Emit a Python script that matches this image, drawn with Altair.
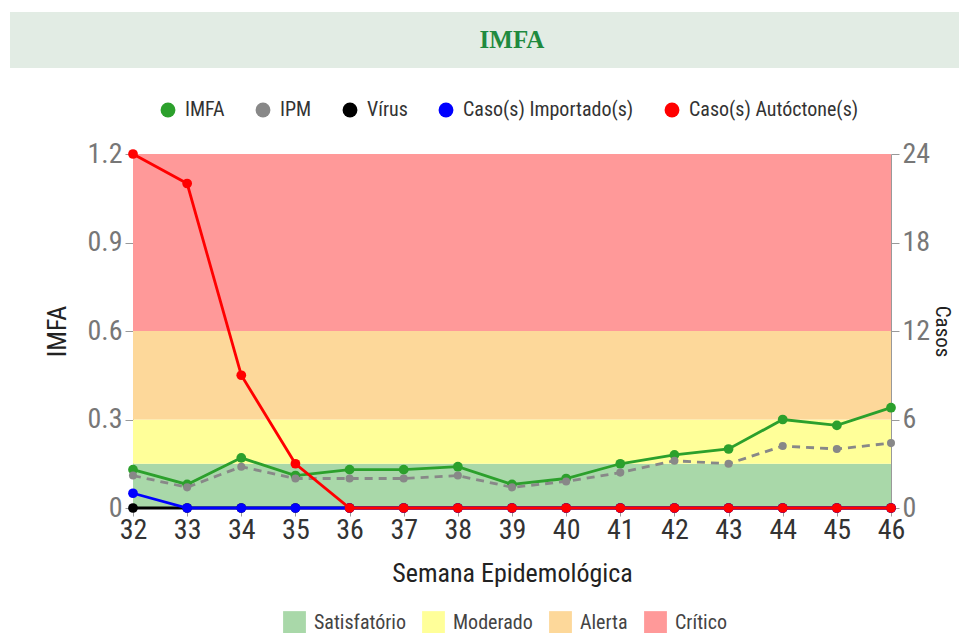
import altair as alt
import pandas as pd

weeks = list(range(32, 47))
imfa = [0.13, 0.08, 0.17, 0.11, 0.13, 0.13, 0.14, 0.08, 0.10, 0.15, 0.18, 0.20, 0.30, 0.28, 0.34]
ipm = [0.11, 0.07, 0.14, 0.10, 0.10, 0.10, 0.11, 0.07, 0.09, 0.12, 0.16, 0.15, 0.21, 0.20, 0.22]
virus = [0, 0, 0, 0, 0, 0, 0, 0, 0, 0, 0, 0, 0, 0, 0]
importados = [1, 0, 0, 0, 0, 0, 0, 0, 0, 0, 0, 0, 0, 0, 0]
autoctones = [24, 22, 9, 3, 0, 0, 0, 0, 0, 0, 0, 0, 0, 0, 0]

series_names = ["IMFA", "IPM", "Vírus", "Caso(s) Importado(s)", "Caso(s) Autóctone(s)"]
series_colors = ["#2ca02c", "#888888", "#000000", "#0000ff", "#ff0000"]

band_names = ["Satisfatório", "Moderado", "Alerta", "Crítico"]
band_lo = [0, 0.15, 0.3, 0.6]
band_hi = [0.15, 0.3, 0.6, 1.2]
band_colors = ["#a9d8a9", "#ffff99", "#fdd89a", "#ff9999"]

left_ticks = [0, 0.3, 0.6, 0.9, 1.2]
right_ticks = [0, 6, 12, 18, 24]

FONT = "Roboto Condensed, Liberation Sans Narrow, DejaVu Sans Condensed, Roboto, sans-serif"

W, H = 758, 354

rows = []
for name, vals in zip(series_names, [imfa, ipm, virus, importados, autoctones]):
    for w, v in zip(weeks, vals):
        rows.append({"week": w, "series": name, "value": v})
df = pd.DataFrame(rows)
bands = pd.DataFrame({"band": band_names, "lo": band_lo, "hi": band_hi})

x_enc = alt.X(
    "week:Q",
    scale=alt.Scale(domain=[weeks[0], weeks[-1]], nice=False, zero=False),
    axis=alt.Axis(values=weeks, format="d", title="Semana Epidemológica",
                  labelFontSize=28, labelColor="#333", titleFontSize=26,
                  titleColor="#222", titleFontWeight="normal", tickSize=8,
                  labelPadding=0, titlePadding=16, domain=False, labelFlush=False,
                  labelOverlap=False),
)

left_scale = alt.Scale(domain=[0, 1.2], nice=False)
left_axis = alt.Axis(values=left_ticks, format="~g", title="IMFA", orient="left",
                     labelFontSize=28, labelColor="#777", titleFontSize=26,
                     titleColor="#222", titleFontWeight="normal", tickSize=8,
                     labelPadding=3, titlePadding=16, labelFlush=False)
right_scale = alt.Scale(domain=[0, 24], nice=False)
right_axis = alt.Axis(values=right_ticks, format="d", title="Casos", orient="right",
                      labelFontSize=28, labelColor="#777", titleFontSize=21,
                      titleColor="#222", titleFontWeight="normal", tickSize=8,
                      labelPadding=3, titlePadding=2, labelFlush=False)

series_legend = alt.Legend(orient="none", legendX=25, legendY=-54, direction="horizontal",
                           title=None, symbolType="circle", symbolSize=220,
                           symbolStrokeWidth=0, labelFontSize=20, labelFont=FONT,
                           labelColor="#333", columnPadding=28, labelOffset=7,
                           labelLimit=0, padding=0)
fill_enc = alt.Fill("series:N", scale=alt.Scale(domain=series_names, range=series_colors),
                    legend=series_legend)
stroke_enc = alt.Stroke("series:N", scale=alt.Scale(domain=series_names, range=series_colors),
                        legend=series_legend)

base = alt.Chart(df)


def series_layers(name, y_scale, y_axis, dashed=False, size=95):
    sel = base.transform_filter(alt.datum.series == name)
    y = alt.Y("value:Q", scale=y_scale, axis=y_axis)
    line_kwargs = {"strokeWidth": 2.8}
    if dashed:
        line_kwargs["strokeDash"] = [8, 6]
    line = sel.mark_line(**line_kwargs).encode(x=x_enc, y=y, stroke=stroke_enc)
    pts = sel.mark_circle(size=size, opacity=1).encode(x=x_enc, y=y, fill=fill_enc)
    return [line, pts]


band_layer = alt.Chart(bands).mark_rect().encode(
    x=alt.value(0), x2=alt.value(W),
    y=alt.Y("lo:Q", scale=left_scale, axis=left_axis),
    y2="hi:Q",
    color=alt.Color("band:N", scale=alt.Scale(domain=band_names, range=band_colors),
                    legend=alt.Legend(orient="none", legendX=150, legendY=457,
                                      direction="horizontal", title=None,
                                      symbolType="square", symbolSize=520,
                                      symbolStrokeWidth=0, labelFontSize=20,
                                      labelFont=FONT, labelColor="#444",
                                      columnPadding=16, labelOffset=8,
                                      labelLimit=0, padding=0)),
)

header_df = pd.DataFrame({"t": ["IMFA"]})
header_rect = alt.Chart(header_df).mark_rect(color="#e2ece4").encode(
    x=alt.value(-123), x2=alt.value(W + 80), y=alt.value(-142), y2=alt.value(-86)
)
header_text = alt.Chart(header_df).mark_text(
    font="Liberation Serif", fontSize=25, fontWeight="bold", color="#1f8a3e",
    align="center", baseline="middle"
).encode(text="t:N", x=alt.value(W / 2), y=alt.value(-114))

left = alt.layer(
    header_rect, header_text, band_layer,
    *series_layers("IMFA", left_scale, left_axis),
    *series_layers("IPM", left_scale, left_axis, dashed=True, size=65),
)
right = alt.layer(
    *series_layers("Vírus", right_scale, right_axis),
    *series_layers("Caso(s) Importado(s)", right_scale, right_axis),
    *series_layers("Caso(s) Autóctone(s)", right_scale, right_axis),
)

chart = alt.layer(left, right).resolve_scale(y="independent").properties(
    width=W, height=H,
    padding={"left": 125, "top": 146, "right": 68, "bottom": 125},
    autosize=alt.AutoSizeParams(type="none"),
).configure_view(stroke=None).configure_axis(
    grid=False, domainColor="#999", tickColor="#999", labelFont=FONT, titleFont=FONT
)

chart.save("out.html", embed_options={"renderer": "svg", "actions": False})
